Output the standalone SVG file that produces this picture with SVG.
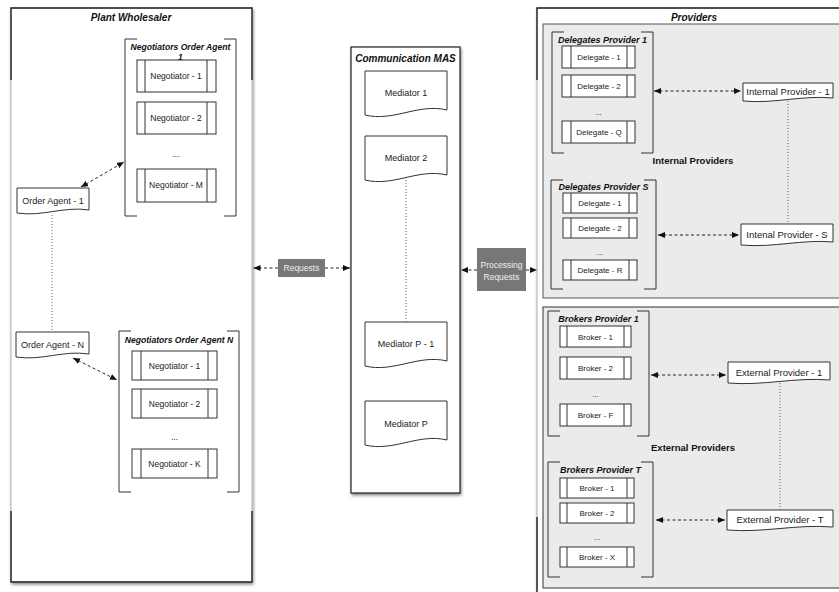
<svg xmlns="http://www.w3.org/2000/svg" width="839" height="592" viewBox="0 0 839 592">
<defs>
<filter id="sh" x="-5%" y="-5%" width="115%" height="115%"><feDropShadow dx="1" dy="2" stdDeviation="1.5" flood-color="#000" flood-opacity="0.45"/></filter>
<marker id="ah" viewBox="0 0 7 6" markerWidth="7" markerHeight="6" refX="7" refY="3" orient="auto-start-reverse" markerUnits="userSpaceOnUse"><path d="M0,0 L7,3 L0,6 z" fill="#111"/></marker>
<style>
text{font-family:"Liberation Sans",Arial,Helvetica,sans-serif;text-anchor:middle;fill:#222}
.t{font-weight:bold;font-style:italic;font-size:10px;fill:#111}
.st{font-weight:bold;font-style:italic;font-size:8.6px;fill:#111}
.st9{font-weight:bold;font-style:italic;font-size:9px;fill:#111}
.gt{font-weight:bold;font-size:9.5px;fill:#111}
.l9{font-size:9px}
.l85{font-size:8.5px}
.l8{font-size:8px}
.lp{font-size:9.5px}
.wl{font-size:8.5px;fill:#eee}
.panel{fill:#fff;stroke:#bbb;stroke-width:1.2}
.edge{fill:none;stroke:#222;stroke-width:1.4}
.grp{fill:#ebebeb;stroke:#555;stroke-width:1}
.box{fill:#fff;stroke:#333;stroke-width:1}
.in{stroke:#333;stroke-width:1}
.br{fill:none;stroke:#333;stroke-width:1}
.doc{fill:#fff;stroke:#333;stroke-width:1}
.tag{fill:#777}
.dash{fill:none;stroke:#222;stroke-width:1;stroke-dasharray:3 2.5;marker-start:url(#ah);marker-end:url(#ah)}
.one{fill:none;stroke:#222;stroke-width:1;stroke-dasharray:3 2.5;marker-end:url(#ah)}
.dot{fill:none;stroke:#666;stroke-width:1;stroke-dasharray:1 2}
</style>
</defs>
<rect width="839" height="592" fill="#fff"/>

<g id="plant-wholesaler">
<rect class="panel" x="11" y="8" width="241" height="574" filter="url(#sh)"/>
<path class="edge" d="M11,80 V8 H252 V80 M11,511 V582 H252 V511"/>
<text class="t" x="131" y="21">Plant Wholesaler</text>
</g>

<g id="negotiators-1">
<path class="br" d="M137,39 H125 V216 H137 M224,39 H236 V216 H224"/>
<text class="st" x="180.5" y="50">Negotiators Order Agent</text>
<text class="st" x="180.5" y="60">1</text>
<rect class="box" x="137" y="60" width="79" height="32"/><path class="in" d="M145,60 V92 M207,60 V92"/><text class="l85" x="176" y="79">Negotiator - 1</text>
<rect class="box" x="137" y="102" width="79" height="32"/><path class="in" d="M145,102 V134 M207,102 V134"/><text class="l85" x="176" y="121">Negotiator - 2</text>
<text class="l85" x="176" y="157">...</text>
<rect class="box" x="137" y="169" width="79" height="33"/><path class="in" d="M145,169 V202 M207,169 V202"/><text class="l85" x="176" y="188">Negotiator - M</text>
</g>

<g id="order-agent-1">
<path class="doc" d="M17,188 H89 V210 C63.8,206 42.2,217 17,213 Z"/>
<text class="l9" x="53" y="204">Order Agent - 1</text>
</g>

<g id="order-agent-n">
<path class="doc" d="M16,332 H89 V354 C63.5,350 41.6,361 16,357 Z"/>
<text class="l9" x="52.5" y="348">Order Agent - N</text>
</g>

<g id="negotiators-n">
<path class="br" d="M131,331 H119 V492 H131 M227,331 H239 V492 H227"/>
<text class="st" x="179" y="343">Negotiators Order Agent N</text>
<rect class="box" x="132" y="351" width="85" height="29"/><path class="in" d="M141,351 V380 M208,351 V380"/><text class="l85" x="174.5" y="368.5">Negotiator - 1</text>
<rect class="box" x="132" y="389" width="85" height="29"/><path class="in" d="M141,389 V418 M208,389 V418"/><text class="l85" x="174.5" y="406.5">Negotiator - 2</text>
<text class="l85" x="174.5" y="440">...</text>
<rect class="box" x="132" y="449" width="85" height="29"/><path class="in" d="M141,449 V478 M208,449 V478"/><text class="l85" x="174.5" y="466.5">Negotiator - K</text>
</g>

<g id="communication-mas">
<rect x="351" y="47" width="109" height="446" fill="#fff" stroke="#222" stroke-width="1.2" filter="url(#sh)"/>
<text class="t" x="405.5" y="62">Communication MAS</text>
</g>
<g id="mediator-1"><path class="doc" d="M365,71 H447 V110 C418.3,103 393.7,122 365,115 Z"/><text class="l9" x="406" y="96">Mediator 1</text></g>
<g id="mediator-2"><path class="doc" d="M365,136 H447 V175 C418.3,168 393.7,187 365,180 Z"/><text class="l9" x="406" y="161">Mediator 2</text></g>
<g id="mediator-p-1"><path class="doc" d="M365,322 H447 V361 C418.3,354 393.7,373 365,366 Z"/><text class="l9" x="406" y="347">Mediator P - 1</text></g>
<g id="mediator-p"><path class="doc" d="M365,401 H447 V440 C418.3,433 393.7,452 365,445 Z"/><text class="l9" x="406" y="427">Mediator P</text></g>

<g id="requests">
<rect class="tag" x="278" y="259" width="47" height="18"/>
<text class="wl" x="301.5" y="271">Requests</text>
</g>
<g id="processing-requests">
<rect class="tag" x="477" y="248" width="49" height="43"/>
<text class="wl" x="501.5" y="268">Processing</text>
<text class="wl" x="501.5" y="280">Requests</text>
</g>

<g id="providers">
<rect class="panel" x="537" y="8" width="320" height="600" filter="url(#sh)"/>
<path class="edge" d="M537,80 V8 H845 M537,517 V600"/>
<text class="t" x="694" y="21">Providers</text>
</g>

<g id="internal-providers">
<rect class="grp" x="543" y="24" width="310" height="274"/>
<text class="gt" x="693" y="164">Internal  Providers</text>
</g>

<g id="delegates-provider-1">
<path class="br" d="M564,32 H552 V153 H564 M641,32 H653 V153 H641"/>
<text class="st9" x="602.5" y="43">Delegates Provider 1</text>
<rect class="box" x="562" y="46" width="73" height="22"/><path class="in" d="M571,46 V68 M627,46 V68"/><text class="l8" x="599" y="60">Delegate - 1</text>
<rect class="box" x="562" y="75" width="73" height="22"/><path class="in" d="M571,75 V97 M627,75 V97"/><text class="l8" x="599" y="89">Delegate - 2</text>
<text class="l8" x="598.5" y="115">...</text>
<rect class="box" x="562" y="121" width="73" height="22"/><path class="in" d="M571,121 V143 M627,121 V143"/><text class="l8" x="599" y="135">Delegate - Q</text>
</g>

<g id="internal-provider-1">
<path class="doc" d="M743,83 H833 V98 C801.5,95 774.5,104 743,101 Z"/>
<text class="lp" x="788" y="94.5">Internal Provider - 1</text>
</g>

<g id="delegates-provider-s">
<path class="br" d="M563,180 H551 V289 H563 M644,180 H656 V289 H644"/>
<text class="st9" x="603.5" y="190">Delegates Provider S</text>
<rect class="box" x="563" y="193" width="74" height="20"/><path class="in" d="M571,193 V213 M629,193 V213"/><text class="l8" x="600" y="206">Delegate - 1</text>
<rect class="box" x="563" y="218" width="74" height="20"/><path class="in" d="M571,218 V238 M629,218 V238"/><text class="l8" x="600" y="231">Delegate - 2</text>
<text class="l8" x="600" y="255">...</text>
<rect class="box" x="563" y="260" width="74" height="20"/><path class="in" d="M571,260 V280 M629,260 V280"/><text class="l8" x="600" y="273">Delegate - R</text>
</g>

<g id="internal-provider-s">
<path class="doc" d="M741,224 H833 V242 C803.2,239 773.2,248 741,245 Z"/>
<text class="lp" x="787" y="238">Intenal Provider - S</text>
</g>

<g id="external-providers">
<rect class="grp" x="543" y="307" width="310" height="281" style="stroke:#333"/>
<text class="gt" x="693" y="451">External  Providers</text>
</g>

<g id="brokers-provider-1">
<path class="br" d="M560,311 H548 V436 H560 M637,311 H649 V436 H637"/>
<text class="st9" x="598.5" y="322">Brokers Provider 1</text>
<rect class="box" x="560" y="326" width="71" height="21"/><path class="in" d="M567,326 V347 M624,326 V347"/><text class="l8" x="595.5" y="339.5">Broker - 1</text>
<rect class="box" x="560" y="357" width="71" height="22"/><path class="in" d="M567,357 V379 M624,357 V379"/><text class="l8" x="595.5" y="371">Broker - 2</text>
<text class="l8" x="595.5" y="397">...</text>
<rect class="box" x="560" y="404" width="71" height="22"/><path class="in" d="M567,404 V426 M624,404 V426"/><text class="l8" x="595.5" y="418">Broker - F</text>
</g>

<g id="external-provider-1">
<path class="doc" d="M728,362 H830 V380 C794.3,377 763.7,386 728,383 Z"/>
<text class="lp" x="779" y="375.5">External Provider - 1</text>
</g>

<g id="brokers-provider-t">
<path class="br" d="M560,462 H548 V577 H560 M641,462 H653 V577 H641"/>
<text class="st9" x="600.5" y="473">Brokers Provider T</text>
<rect class="box" x="560" y="478" width="74" height="20"/><path class="in" d="M567,478 V498 M627,478 V498"/><text class="l8" x="597" y="491">Broker - 1</text>
<rect class="box" x="560" y="503" width="74" height="20"/><path class="in" d="M567,503 V523 M627,503 V523"/><text class="l8" x="597" y="516">Broker - 2</text>
<text class="l8" x="597" y="540">...</text>
<rect class="box" x="560" y="547" width="74" height="20"/><path class="in" d="M567,547 V567 M627,547 V567"/><text class="l8" x="597" y="560">Broker - X</text>
</g>

<g id="external-provider-t">
<path class="doc" d="M727,510 H833 V527 C795.9,524 764.1,533 727,530 Z"/>
<text class="lp" x="780" y="523">External Provider - T</text>
</g>

<g id="connectors">
<line class="dash" x1="81" y1="187" x2="124" y2="162"/>
<line class="dash" x1="73" y1="358" x2="117" y2="380"/>
<line class="dot" x1="52" y1="215" x2="52" y2="331"/>
<line class="dot" x1="406" y1="180" x2="406" y2="322"/>
<line class="one" x1="278" y1="268" x2="253.5" y2="268"/>
<line class="one" x1="325" y1="268" x2="350" y2="268"/>
<line class="one" x1="477" y1="270" x2="461" y2="270"/>
<line class="one" x1="526" y1="270" x2="537" y2="270"/>
<line class="dash" x1="654" y1="91" x2="741" y2="91"/>
<line class="dash" x1="658" y1="235" x2="739" y2="235"/>
<line class="dot" x1="788" y1="101" x2="788" y2="224"/>
<line class="dash" x1="651" y1="375" x2="726" y2="375"/>
<line class="dash" x1="656" y1="520" x2="725" y2="520"/>
<line class="dot" x1="780" y1="383" x2="780" y2="510"/>
</g>
</svg>
